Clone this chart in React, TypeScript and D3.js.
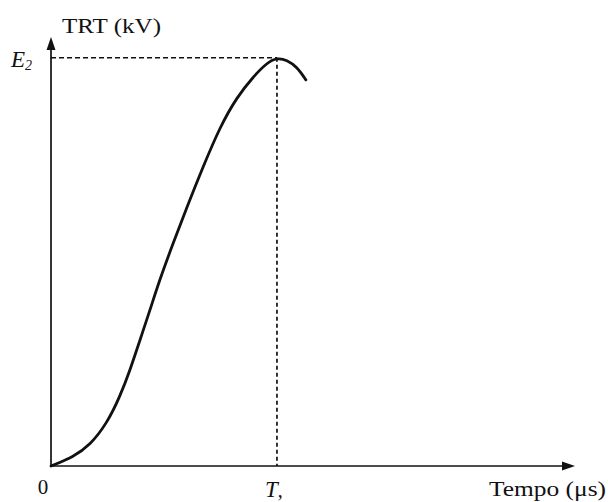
import { useEffect, useRef } from 'react';
import * as d3 from 'd3';

// TRT curve, time in units of T, voltage in units of E2
const timeValues = [0, 0.009, 0.097, 0.173, 0.248, 0.305, 0.35, 0.394, 0.438, 0.482, 0.54, 0.602, 0.673, 0.748, 0.823, 0.894, 0.956, 1.0, 1.044, 1.088, 1.128];
const trtValues = [0, 0.002, 0.022, 0.051, 0.105, 0.17, 0.235, 0.309, 0.382, 0.458, 0.545, 0.635, 0.733, 0.831, 0.904, 0.953, 0.988, 1.0, 0.995, 0.978, 0.946];

const peakTime = 1.0;
const peakValue = 1.0;
const xMax = 2.319;
const yMax = 1.051;

const yAxisLabel = 'TRT (kV)';
const xAxisLabel = 'Tempo (\u03bcs)';

export default function App() {
  const svgRef = useRef<SVGSVGElement>(null);

  useEffect(() => {
    if (!svgRef.current) return;
    const svg = d3.select(svgRef.current);
    svg.selectAll('*').remove();

    const origin = { x: 51, y: 466 };
    const x = d3.scaleLinear().domain([0, xMax]).range([origin.x, 575]);
    const y = d3.scaleLinear().domain([0, yMax]).range([origin.y, 37]);

    const ink = '#111';
    const serif = '"Liberation Serif", "Times New Roman", serif';

    // axes
    svg.append('line')
      .attr('x1', x(0)).attr('y1', y(0))
      .attr('x2', x(xMax) - 8).attr('y2', y(0))
      .attr('stroke', ink).attr('stroke-width', 1.7);
    svg.append('line')
      .attr('x1', x(0)).attr('y1', y(0))
      .attr('x2', x(0)).attr('y2', y(yMax) + 8)
      .attr('stroke', ink).attr('stroke-width', 1.7);

    // arrow heads
    const xt = x(xMax), yt = y(yMax);
    svg.append('path')
      .attr('d', `M${xt},${y(0)} L${xt - 13},${y(0) - 4.5} L${xt - 13},${y(0) + 4.5} Z`)
      .attr('fill', ink);
    svg.append('path')
      .attr('d', `M${x(0)},${yt} L${x(0) - 4.5},${yt + 13} L${x(0) + 4.5},${yt + 13} Z`)
      .attr('fill', ink);

    // dashed guides to the peak
    svg.append('line')
      .attr('x1', x(0)).attr('y1', y(peakValue))
      .attr('x2', x(peakTime)).attr('y2', y(peakValue))
      .attr('stroke', ink).attr('stroke-width', 1.5)
      .attr('stroke-dasharray', '5,3');
    svg.append('line')
      .attr('x1', x(peakTime)).attr('y1', y(peakValue))
      .attr('x2', x(peakTime)).attr('y2', y(0))
      .attr('stroke', ink).attr('stroke-width', 1.7)
      .attr('stroke-dasharray', '4,3');

    // curve
    const pts = timeValues.map((t, i) => [t, trtValues[i]] as [number, number]);
    const line = d3.line<[number, number]>()
      .x(d => x(d[0]))
      .y(d => y(d[1]))
      .curve(d3.curveBasis);
    svg.append('path')
      .datum(pts)
      .attr('d', line)
      .attr('fill', 'none')
      .attr('stroke', ink)
      .attr('stroke-width', 2.8)
      .attr('stroke-linecap', 'round');

    // labels
    svg.append('text')
      .attr('x', 62).attr('y', 33)
      .attr('font-family', serif).attr('font-size', 20)
      .attr('textLength', 99).attr('lengthAdjust', 'spacingAndGlyphs')
      .attr('fill', ink)
      .text(yAxisLabel);

    const e2 = svg.append('text')
      .attr('x', 11).attr('y', 67)
      .attr('font-family', serif).attr('font-size', 23)
      .attr('font-style', 'italic')
      .attr('fill', ink);
    e2.append('tspan').text('E');
    e2.append('tspan').attr('font-size', 14).attr('dy', 3).text('2');

    svg.append('text')
      .attr('x', 43).attr('y', 494)
      .attr('text-anchor', 'middle')
      .attr('font-family', serif).attr('font-size', 21)
      .attr('fill', ink)
      .text('0');

    const tLab = svg.append('text')
      .attr('x', 265).attr('y', 497)
      .attr('font-family', serif).attr('font-size', 23)
      .attr('fill', ink);
    tLab.append('tspan').attr('font-style', 'italic').text('T');
    tLab.append('tspan').attr('font-size', 20).text(',');

    svg.append('text')
      .attr('x', 489).attr('y', 496)
      .attr('font-family', serif).attr('font-size', 20)
      .attr('textLength', 117).attr('lengthAdjust', 'spacingAndGlyphs')
      .attr('fill', ink)
      .text(xAxisLabel);
  }, []);

  return (
    <svg
      ref={svgRef}
      width={608}
      height={502}
      style={{ position: 'absolute', left: 0, top: 0, background: '#fff' }}
    />
  );
}
